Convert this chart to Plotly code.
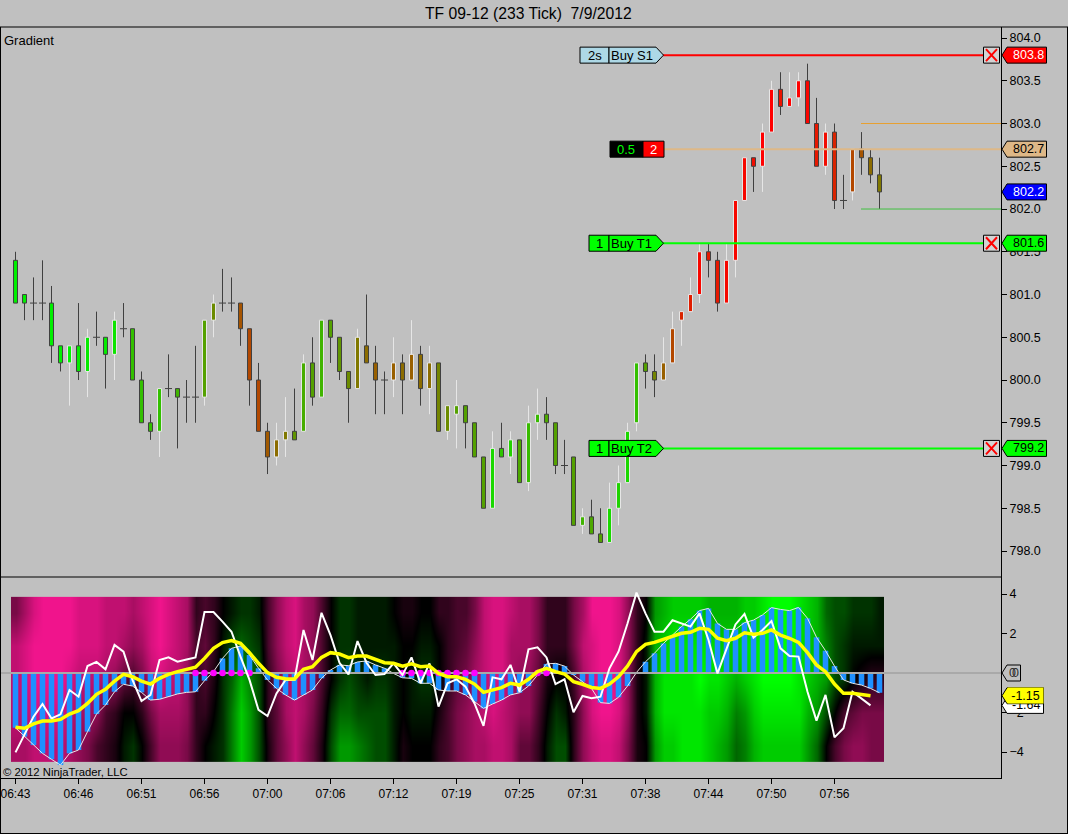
import plotly.graph_objects as go

W, H = 1068, 834

# price bars, one per 233 ticks
opens = [801.4, 801.0, 800.9, 800.9, 800.9, 800.4, 800.2, 800.4, 800.1, 800.5, 800.5, 800.3, 800.6, 800.6, 800.0, 799.5,
         799.4, 799.9, 799.9, 799.8, 799.8, 799.8, 800.7, 800.9, 800.9, 800.9, 800.6, 800.0, 799.4, 799.1, 799.3, 799.4,
         799.4, 800.2, 799.8, 800.7, 800.5, 800.1, 799.9, 800.4, 800.2, 800.0, 800.0, 800.2, 800.0, 800.3, 799.9, 800.2,
         799.4, 799.6, 799.7, 799.5, 799.1, 798.5, 799.2, 799.1, 799.3, 798.8, 799.5, 799.6, 799.5, 799.0, 799.1, 798.3,
         798.4, 798.2, 798.1, 798.5, 798.8, 799.5, 800.2, 800.1, 800.0, 800.2, 800.7, 800.8, 801.0, 801.5, 801.4, 800.9,
         801.4, 802.1, 802.6, 802.5, 802.9, 803.4, 803.2, 803.3, 803.5, 803.0, 802.5, 802.9, 802.1, 802.2, 802.7, 802.6,
         802.4]
highs = [801.5, 801.0, 801.2, 801.4, 801.1, 800.4, 800.4, 800.9, 800.6, 800.8, 800.5, 800.8, 800.9, 800.6, 800.1, 799.6,
         799.9, 800.3, 799.9, 800.0, 800.4, 800.7, 801.0, 801.3, 801.2, 800.9, 800.6, 800.2, 799.5, 799.5, 799.8, 799.9,
         800.3, 800.5, 800.7, 800.7, 800.5, 800.1, 800.6, 801.0, 800.4, 800.1, 800.5, 800.3, 800.7, 800.4, 800.4, 800.2,
         799.7, 800.0, 799.7, 799.5, 799.1, 799.4, 799.5, 799.4, 799.3, 799.7, 799.9, 799.8, 799.5, 799.3, 799.1, 798.5,
         798.6, 798.5, 798.8, 799.0, 799.5, 800.2, 800.3, 800.3, 800.5, 800.8, 800.8, 801.2, 801.6, 801.6, 801.5, 801.6,
         802.1, 802.6, 802.6, 803.0, 803.5, 803.6, 803.6, 803.6, 803.7, 803.3, 803.0, 803.0, 802.4, 802.7, 802.9, 802.7,
         802.6]
lows = [800.9, 800.7, 800.7, 800.7, 800.2, 800.1, 799.7, 800.0, 799.8, 800.4, 799.9, 800.0, 800.5, 800.0, 799.5, 799.3,
        799.1, 799.8, 799.2, 799.5, 799.5, 799.7, 800.5, 800.8, 800.8, 800.4, 799.7, 799.4, 798.9, 799.0, 799.1, 799.3,
        799.4, 799.7, 799.8, 800.2, 800.0, 799.5, 799.9, 800.2, 799.6, 799.6, 799.8, 799.6, 800.0, 799.7, 799.6, 799.4,
        799.3, 799.2, 799.2, 799.1, 798.5, 798.5, 799.1, 798.9, 798.8, 798.7, 799.3, 799.3, 798.9, 798.9, 798.3, 798.2,
        798.2, 798.1, 798.1, 798.3, 798.8, 799.4, 799.9, 799.8, 800.0, 800.2, 800.4, 800.8, 800.9, 801.2, 800.8, 800.9,
        801.2, 802.1, 802.2, 802.2, 802.9, 803.1, 803.2, 803.2, 803.0, 802.5, 802.4, 802.0, 802.0, 802.1, 802.4, 802.3,
        802.0]
closes = [800.9, 800.9, 800.9, 800.9, 800.4, 800.2, 800.4, 800.1, 800.5, 800.5, 800.3, 800.7, 800.6, 800.0, 799.5, 799.4,
          799.9, 799.9, 799.8, 799.8, 799.8, 800.7, 800.9, 800.9, 800.9, 800.6, 800.0, 799.4, 799.1, 799.3, 799.4, 799.3,
          800.2, 799.8, 800.7, 800.5, 800.1, 799.9, 800.5, 800.2, 800.0, 800.0, 800.2, 800.0, 800.3, 799.9, 800.2, 799.4,
          799.7, 799.7, 799.5, 799.1, 798.5, 799.2, 799.1, 799.3, 798.8, 799.5, 799.6, 799.5, 799.0, 799.0, 798.3, 798.4,
          798.2, 798.1, 798.5, 798.8, 799.4, 800.2, 800.1, 800.0, 800.2, 800.6, 800.8, 801.0, 801.5, 801.4, 800.9, 801.4,
          802.1, 802.6, 802.5, 802.9, 803.4, 803.2, 803.3, 803.5, 803.0, 802.5, 802.9, 802.1, 802.1, 802.7, 802.6, 802.4,
          802.2]
# 0 = green bar, 1 = red bar
bar_gradient = [0, 0, 0, 0, 0, 0, 0, .02, .02, 0, .02, .05, 0, .2, .2, .2,
                .2, 0, .25, 0, 0, .33, .42, 0, 0, .65, .7, .7, .63, .55, .5, .38,
                .28, .33, .25, .33, .38, .42, .5, .55, .6, 0, .6, .55, .6, .55, .55, .45,
                .42, .33, .33, .33, .33, .1, .18, .13, .3, .22, .22, .3, .33, 0, .33, .25,
                .3, .33, .1, .12, .1, .2, .33, .45, .6, .7, .85, .88, .97, .9, .9, .97,
                .97, .97, .95, 1, 1, .92, 1, 1, .98, .9, .95, .85, 0, .7, .65, .55,
                .5]

time_ticks = [0, 7, 14, 21, 28, 35, 42, 49, 56, 63, 70, 77, 84, 91]
time_labels = ["06:43", "06:46", "06:51", "06:56", "07:00", "07:06", "07:12",
               "07:19", "07:25", "07:31", "07:38", "07:44", "07:50", "07:56"]

# indicator panel
hist = [-2.77, -3.22, -3.65, -4.07, -4.37, -4.66, -4.07, -3.9, -2.97, -2.08, -1.62, -0.95, -0.57, -0.66, -0.98, -1.37,
        -1.33, -1.2, -1.06, -0.98, -0.95, -0.39, 0.07, 0.74, 1.25, 1.37, 0.91, 0.24, -0.35, -0.78, -1.11, -1.37,
        -1.11, -0.86, -0.27, 0.15, 0.41, 0.37, 0.56, 0.61, 0.41, 0.24, -0.02, -0.24, -0.27, -0.52, -0.52, -0.86,
        -0.91, -0.91, -1.11, -1.45, -1.79, -1.57, -1.37, -1.11, -1.0, -0.66, -0.1, 0.46, 0.49, 0.35, -0.1, -0.44,
        -0.78, -1.5, -1.54, -1.23, -0.66, 0.03, 0.57, 1.0, 1.5, 1.92, 2.35, 2.72, 3.16, 3.27, 2.51, 2.21,
        2.21, 2.55, 2.68, 2.94, 3.31, 3.22, 3.16, 3.32, 2.77, 1.81, 1.13, 0.35, -0.35, -0.52, -0.61, -0.78,
        -1.0]
fast_line = [-4.02, -3.14, -2.21, -1.57, -2.3, -2.09, -0.86, -1.2, 0.35, 0.56, 0.19, 1.42, 1.08, -0.35, -1.42, -1.11,
             0.66, 0.79, 0.57, 0.68, 0.79, 3.09, 3.09, 2.6, 2.09, 0.83, -0.35, -1.87, -2.18, -1.03, -0.35, -0.35,
             2.18, 0.66, 3.05, 1.92, 0.52, -0.07, 1.62, 0.52, -0.1, -0.05, 0.49, -0.1, 0.79, -0.52, 0.49, -1.7,
             -0.52, -0.32, -0.69, -1.54, -2.68, -0.22, -0.32, 0.41, -0.95, 1.2, 1.3, 0.79, -0.56, -0.32, -1.99, -1.16,
             -1.28, -1.2, 0.24, 1.08, 2.51, 4.07, 3.02, 2.09, 2.09, 2.67, 2.51, 2.35, 3.02, 1.67, -0.02, 1.25,
             2.46, 2.99, 1.79, 2.18, 2.63, 1.25, 0.86, 0.83, -0.95, -2.41, -1.11, -3.26, -2.8, -0.95, -1.28, -1.64]
slow_line = [-2.75, -2.8, -2.58, -2.43, -2.43, -2.35, -2.08, -1.91, -1.54, -1.08, -0.83, -0.41, -0.07, -0.19, -0.41, -0.56,
             -0.27, -0.07, 0.07, 0.19, 0.29, 0.74, 1.25, 1.54, 1.64, 1.5, 1.03, 0.49, 0.02, -0.22, -0.29, -0.3,
             0.19, 0.32, 0.79, 1.03, 0.96, 0.78, 0.86, 0.86, 0.69, 0.52, 0.49, 0.35, 0.46, 0.32, 0.35, -0.02,
             -0.19, -0.19, -0.32, -0.56, -0.98, -0.86, -0.74, -0.52, -0.61, -0.32, 0.07, 0.24, 0.07, -0.05, -0.44, -0.57,
             -0.73, -0.78, -0.56, -0.19, 0.35, 1.08, 1.45, 1.55, 1.7, 1.87, 2.01, 2.06, 2.26, 2.21, 1.76, 1.64,
             1.76, 2.04, 1.96, 2.01, 2.18, 1.92, 1.76, 1.55, 1.03, 0.41, 0.07, -0.56, -1.03, -1.03, -1.08, -1.15]
flat_bars = [20, 21, 22, 23, 24, 25, 26, 43, 44, 45, 46, 47, 48, 49, 50, 51, 58, 59]

# gradient background: one column per bar, rows from top to bottom of the band
heat_levels = [3.02, 1.35, -0.33, -2.0, -3.67]
heat_columns = [
    [-5, -8, -8, -8, -7], [-7, -9, -9, -8, -7], [-9, -10, -10, -9, -8], [-10, -10, -10, -9, -8],
    [-10, -10, -10, -9, -8], [-10, -10, -10, -9, -8], [-10, -10, -9, -8, -7], [-9, -9, -8, -7, -6],
    [-9, -9, -8, -7, -5], [-9, -9, -8, -6, -3], [-8, -8, -7, -3, -2], [-8, -8, -6, -2, -1],
    [-8, -7, -4, 0, 1], [-7, -6, -3, 0, 2], [-8, -7, -5, -2, 0], [-9, -9, -8, -5, -3],
    [-10, -10, -9, -7, -6], [-9, -9, -8, -7, -6], [-8, -8, -8, -7, -6], [-7, -7, -6, -6, -5],
    [-2, -3, -2, -2, -2], [-3, -4, -3, -2, 0], [-2, -2, -1, 0, 1], [0, 1, 2, 2, 2],
    [1, 3, 4, 5, 5], [2, 4, 7, 8, 8], [2, 3, 5, 6, 6], [1, 2, 3, 3, 3],
    [-3, -3, -2, -2, -1], [-6, -6, -5, -4, -4], [-8, -8, -7, -7, -6], [-9, -9, -8, -8, -8],
    [-7, -7, -7, -7, -6], [-6, -6, -6, -5, -4], [-3, -3, -3, -2, -1], [0, 0, 0, 2, 3],
    [2, 2, 2, 4, 6], [2, 2, 3, 4, 6], [1, 1, 2, 3, 5], [1, 1, 1, 3, 4],
    [1, 1, 2, 3, 3], [1, 1, 2, 3, 3], [0, 1, 1, 1, 1], [-1, 0, 0, 0, -1],
    [-1, 0, 1, 1, 0], [0, 1, 2, 1, 0], [0, 1, 2, 1, 0], [-2, 0, 0, -1, -2],
    [-2, -2, -2, -3, -3], [-3, -3, -4, -5, -5], [-3, -4, -5, -6, -6], [-5, -6, -7, -7, -7],
    [-8, -8, -8, -8, -7], [-9, -9, -9, -9, -8], [-9, -9, -9, -8, -8], [-8, -7, -7, -7, -7],
    [-7, -7, -6, -6, -4], [-7, -7, -6, -6, -4], [-5, -5, -4, -3, -2], [-2, -2, -1, 0, 1],
    [-2, -2, 0, 2, 3], [-2, -2, 0, 1, 3], [-5, -5, -3, -2, -2], [-7, -8, -7, -6, -6],
    [-10, -9, -9, -9, -8], [-10, -10, -10, -10, -9], [-10, -10, -10, -10, -9], [-9, -9, -9, -9, -8],
    [-6, -6, -6, -6, -5], [-2, -2, -1, -1, -1], [0, 1, 1, 1, 0], [6, 7, 7, 7, 6],
    [7, 8, 9, 9, 8], [8, 9, 9, 9, 8], [8, 9, 9, 9, 9], [8, 9, 9, 9, 9],
    [8, 9, 10, 9, 9], [7, 9, 9, 8, 8], [7, 8, 9, 8, 7], [7, 8, 8, 7, 6],
    [7, 8, 7, 5, 4], [8, 9, 8, 6, 5], [8, 9, 9, 8, 7], [9, 10, 10, 9, 8],
    [10, 10, 10, 9, 8], [10, 10, 10, 9, 8], [10, 10, 10, 9, 8], [9, 9, 9, 9, 8],
    [8, 8, 8, 7, 6], [7, 7, 7, 6, 4], [4, 5, 6, 3, 0], [3, 3, 3, 0, -3],
    [3, 2, 2, -3, -5], [2, 1, 0, -4, -6], [2, 1, -1, -5, -6], [2, 1, -2, -5, -5],
    [1, 1, -2, -5, -5]]

# chart trader levels
stop_price = 803.8
target1_price = 801.6
target2_price = 799.2
entry_price = 802.7
last_price = 802.2
range_high = 803.0
range_low = 802.0
order_qty = ["2s", "1", "1"]
order_names = ["Buy S1", "Buy T1", "Buy T2"]

FONT = "Liberation Sans"
BG = "#C0C0C0"
DARK = "#404040"
LIGHT = "#E6E6E6"

bars = list(range(len(opens)))
is_doji = [o == c for o, c in zip(opens, closes)]
solid = [i for i in bars if not is_doji[i]]


def wick_segments(keep):
    xs, ys = [], []
    for i in bars:
        if not keep(i):
            continue
        top, bottom = max(opens[i], closes[i]), min(opens[i], closes[i])
        xs += [i, i, None, i, i, None]
        ys += [highs[i], top, None, bottom, lows[i], None]
    return xs, ys


fig = go.Figure()

# candles
for keep, colour in [(lambda i: closes[i] > opens[i], LIGHT), (lambda i: closes[i] <= opens[i], DARK)]:
    wx, wy = wick_segments(keep)
    fig.add_trace(go.Scatter(x=wx, y=wy, mode="lines", line=dict(color=colour, width=1), yaxis="y", hoverinfo="skip"))

fig.add_trace(go.Bar(
    x=solid,
    y=[abs(closes[i] - opens[i]) for i in solid],
    base=[min(opens[i], closes[i]) for i in solid],
    width=0.444,
    yaxis="y",
    marker=dict(
        color=[bar_gradient[i] for i in solid],
        colorscale=[[0, "#00F000"], [1, "#FF0000"]],
        cmin=0, cmax=1,
        line=dict(color=[LIGHT if closes[i] > opens[i] else DARK for i in solid], width=1),
    ),
))
fig.add_trace(go.Scatter(
    x=[i for i in bars if is_doji[i]],
    y=[closes[i] for i in bars if is_doji[i]],
    mode="markers", yaxis="y",
    marker=dict(symbol="line-ew", size=5, line=dict(color=DARK, width=1)),
))

# indicator panel
fig.add_trace(go.Heatmap(
    x=bars, y=heat_levels[::-1],
    z=[[col[r] for col in heat_columns] for r in range(len(heat_levels) - 1, -1, -1)],
    zmin=-10, zmax=10, zsmooth="best", showscale=False, yaxis="y2",
    colorscale=[[0, "#F0148C"], [0.5, "#000000"], [1, "#00FF00"]],
))
fig.add_trace(go.Bar(x=bars, y=hist, width=0.62, yaxis="y2", marker=dict(color="#1E90FF", line=dict(width=0))))
fig.add_trace(go.Scatter(x=bars, y=hist, mode="lines", yaxis="y2", line=dict(color="#E8E8E8", width=1)))
fig.add_trace(go.Scatter(x=[-2, 110], y=[0, 0], mode="lines", yaxis="y2", line=dict(color="#A9A9A9", width=2)))
fig.add_trace(go.Scatter(x=flat_bars, y=[0] * len(flat_bars), mode="markers", yaxis="y2",
                         marker=dict(color="#FF00FF", size=6.5)))
fig.add_trace(go.Scatter(x=bars[:len(fast_line)], y=fast_line, mode="lines", yaxis="y2",
                         line=dict(color="#FFFFFF", width=2)))
fig.add_trace(go.Scatter(x=bars[:len(slow_line)], y=slow_line, mode="lines", yaxis="y2",
                         line=dict(color="#FFFF00", width=3.5)))

shapes = []
notes = []


def px_x(x):
    return x / W


def px_y(y):
    return 1 - y / H


def note(x, y, text, yref="paper", color="#000000", size=12.5, anchor="center", **extra):
    notes.append(dict(x=px_x(x), y=y, xref="paper", yref=yref, text=text, showarrow=False, xanchor=anchor,
                      yanchor="middle", font=dict(family=FONT, size=size, color=color), **extra))


def level_path(level, yref, path, fill, line="#000000"):
    shapes.append(dict(type="path", path=path, xref="paper", xsizemode="pixel", xanchor=0, yref=yref,
                       ysizemode="pixel", yanchor=level, fillcolor=fill, line=dict(color=line, width=1)))


def level_line(level, x0, x1, colour, width, yref="y"):
    shapes.append(dict(type="line", xref="paper", yref=yref, x0=px_x(x0), x1=px_x(x1), y0=level, y1=level,
                       line=dict(color=colour, width=width)))


def price_tag(level, yref, right, fill, text, color, text_x):
    level_path(level, yref, f"M 1002,0 L 1007,8 L {right},8 L {right},-8 L 1007,-8 Z", fill)
    note(text_x, level, text, yref=yref, color=color)


def order_tag(level, left, fill, qty, name):
    level_path(level, "y", f"M {left},8 L 609,8 L 609,-8 L {left},-8 Z", fill)
    level_path(level, "y", "M 609,8 L 656,8 L 663.5,0 L 656,-8 L 609,-8 Z", fill)
    note((left + 609) / 2, level, qty, yref="y", size=13)
    note(608.5, level, name, yref="y", anchor="left", size=13)


# thin range lines and order lines
level_line(range_high, 861, 1001, "#E8A030", 1)
level_line(range_low, 861, 1001, "#40C040", 1)
level_line(entry_price, 664, 1001, "#DEB887", 2)
level_line(stop_price, 663, 983, "#FF0000", 2)
level_line(target1_price, 663, 983, "#00FF00", 2)
level_line(target2_price, 663, 983, "#00FF00", 2)

order_tag(stop_price, 580, "#ADD8E6", order_qty[0], order_names[0])
order_tag(target1_price, 589, "#00FF00", order_qty[1], order_names[1])
order_tag(target2_price, 589, "#00FF00", order_qty[2], order_names[2])

# entry qty / position box
level_path(entry_price, "y", "M 610,8 L 643,8 L 643,-8 L 610,-8 Z", "#000000")
level_path(entry_price, "y", "M 643,8 L 664,8 L 664,-8 L 643,-8 Z", "#FF0000")
note(626, entry_price, "0.5", yref="y", color="#00FF00", size=13)
note(653, entry_price, "2", yref="y", color="#FFFFFF", size=13)

# close buttons
for lvl in [stop_price, target1_price, target2_price]:
    level_path(lvl, "y", "M 983.5,8 L 999.5,8 L 999.5,-8 L 983.5,-8 Z", "#D3D3D3")
    shapes.append(dict(type="path", path="M 986,6 L 997,-6 M 986,-6 L 997,6", xref="paper", xsizemode="pixel", xanchor=0,
                       yref="y", ysizemode="pixel", yanchor=lvl, line=dict(color="#FF0000", width=2)))

price_tag(stop_price, "y", 1046.5, "#FF0000", "803.8", "#FFFFFF", 1028)
price_tag(entry_price, "y", 1046.5, "#DEB887", "802.7", "#000000", 1028)
price_tag(last_price, "y", 1046.5, "#0000FF", "802.2", "#FFFFFF", 1028)
price_tag(target1_price, "y", 1046.5, "#00FF00", "801.6", "#000000", 1028)
price_tag(target2_price, "y", 1046.5, "#00FF00", "799.2", "#000000", 1028)

# two zero tags sit almost on top of each other
level_path(0, "y2", "M 1002,0 L 1007,8 L 1020.5,8 L 1020.5,-8 L 1007,-8 Z", BG)
note(1012.5, 0, "0", yref="y2", color="#303030")
note(1015, 0, "0", yref="y2", color="#303030")

price_tag(fast_line[-1], "y2", 1043.5, "#FFFFFF", f"{fast_line[-1]:.2f}", "#000000", 1026.5)
# yellow tag covers the top of the white one, its text included
level_path(slow_line[-1], "y2", "M 1002,0 L 1007,8 L 1043.5,8 L 1043.5,-8 L 1007,-8 Z", "#FFFF00")
note(1025.5, slow_line[-1], f"{slow_line[-1]:.2f}", yref="y2", bgcolor="#FFFF00", width=35, height=15, borderpad=0)

# frame
for x0, y0, x1, y1 in [(0, 27, W, 27), (0, 577, 1001, 577), (0.5, 27, 0.5, H), (W - 0.5, 27, W - 0.5, H),
                       (0, H - 0.5, W, H - 0.5)]:
    shapes.append(dict(type="line", xref="paper", yref="paper", x0=px_x(x0), x1=px_x(x1), y0=px_y(y0), y1=px_y(y1),
                       line=dict(color="#000000", width=1)))

note(528.5, px_y(13), "TF 09-12 (233 Tick)  7/9/2012", size=15.7)
note(1.5, px_y(40), "Gradient", anchor="left", size=13)
note(0.5, px_y(772), "© 2012 NinjaTrader, LLC", anchor="left", size=11.3)

tick_font = dict(family=FONT, size=12.5, color="#000000")
fig.update_layout(
    width=W, height=H,
    margin=dict(l=0, r=0, t=0, b=0),
    paper_bgcolor=BG, plot_bgcolor=BG,
    showlegend=False,
    barmode="overlay",
    hovermode=False,
    shapes=shapes,
    annotations=notes,
    xaxis=dict(domain=[px_x(1), px_x(1001)], range=[-1.611, 109.5], anchor="y2", showgrid=False, zeroline=False,
               tickmode="array", tickvals=time_ticks, ticktext=time_labels, ticks="outside", ticklen=5,
               tickcolor="#000000", showline=True, linecolor="#000000", linewidth=1,
               tickfont=dict(family=FONT, size=12, color="#000000")),
    yaxis=dict(domain=[px_y(577), px_y(27)], range=[797.696, 804.129], anchor="x", side="right", showgrid=False,
               zeroline=False, dtick=0.5, tick0=798, tickformat=".1f", ticks="outside", ticklen=5, tickcolor="#000000",
               showline=True, linecolor="#000000", linewidth=1, tickfont=tick_font),
    yaxis2=dict(domain=[px_y(778), px_y(577)], range=[-5.316, 4.861], anchor="x", side="right", showgrid=False,
                zeroline=False, dtick=2, tick0=0, ticks="outside", ticklen=5, tickcolor="#000000",
                showline=True, linecolor="#000000", linewidth=1, tickfont=tick_font),
)

fig.write_html("out.html", config=dict(displayModeBar=False),
               post_script="document.body.style.margin='0';")
